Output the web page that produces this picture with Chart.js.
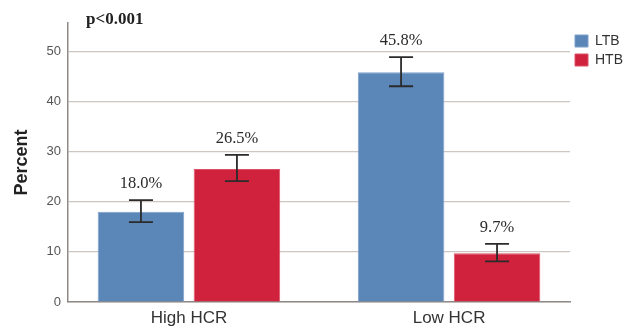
<!DOCTYPE html>
<html>
<head>
<meta charset="utf-8">
<script src="https://cdn.jsdelivr.net/npm/chart.js@4/dist/chart.umd.min.js"></script>
<style>
  html, body { margin: 0; padding: 0; background: #ffffff; }
  #wrap { width: 630px; height: 328px; position: relative; }
</style>
</head>
<body>
<div id="wrap"><canvas id="chart"></canvas></div>
<script>
// Percent of patients by HCR group, with 95% CI error bars
const categories = ['High HCR', 'Low HCR'];
const seriesNames = ['LTB', 'HTB'];
const ltbPercent = [18.0, 45.8];
const htbPercent = [26.5, 9.7];
const ltbCiLow = [15.9, 43.0];
const ltbCiHigh = [20.3, 48.8];
const htbCiLow = [24.1, 8.1];
const htbCiHigh = [29.3, 11.6];
const yTicks = [0, 10, 20, 30, 40, 50];
const pValueText = 'p<0.001';

const SANS = '"Liberation Sans", Arial, sans-serif';
const SERIF = '"Liberation Serif", "Times New Roman", serif';

const toPoints = (vals) => categories.map((_, i) => ({ x: i, y: vals[i] }));

// Error bars with caps, plus the percentage label above each bar
const errorBarPlugin = {
  id: 'errorBars',
  afterDatasetsDraw(chart) {
    const { ctx } = chart;
    const yScale = chart.scales.y;
    chart.data.datasets.forEach((ds, d) => {
      const meta = chart.getDatasetMeta(d);
      if (meta.hidden) return;
      meta.data.forEach((bar, i) => {
        const yHi = yScale.getPixelForValue(ds.ciHigh[i]);
        const yLo = yScale.getPixelForValue(ds.ciLow[i]);
        const x = bar.x;
        const half = 12;
        ctx.save();
        ctx.strokeStyle = '#2b2b2b';
        ctx.lineWidth = 1.8;
        ctx.beginPath();
        ctx.moveTo(x, yHi); ctx.lineTo(x, yLo);
        ctx.moveTo(x - half, yHi); ctx.lineTo(x + half, yHi);
        ctx.moveTo(x - half, yLo); ctx.lineTo(x + half, yLo);
        ctx.stroke();
        ctx.fillStyle = '#2a2a2a';
        ctx.font = '16.5px ' + SERIF;
        ctx.textAlign = 'center';
        ctx.textBaseline = 'middle';
        ctx.fillText(ds.data[i].y.toFixed(1) + '%', x, yHi - 16);
        ctx.restore();
      });
    });
  }
};

// Significance note in the top-left corner of the plot
const pValuePlugin = {
  id: 'pValueNote',
  afterDraw(chart) {
    const { ctx, chartArea } = chart;
    ctx.save();
    ctx.fillStyle = '#222222';
    ctx.font = 'bold 17px ' + SERIF;
    ctx.textAlign = 'left';
    ctx.textBaseline = 'alphabetic';
    ctx.fillText(pValueText, chartArea.left + 18, 24);
    ctx.restore();
  }
};

new Chart(document.getElementById('chart'), {
  type: 'bar',
  data: {
    datasets: [
      {
        label: seriesNames[0],
        data: toPoints(ltbPercent),
        ciLow: ltbCiLow,
        ciHigh: ltbCiHigh,
        backgroundColor: '#5b86b8',
        borderColor: '#7d9fca',
        borderWidth: 1
      },
      {
        label: seriesNames[1],
        data: toPoints(htbPercent),
        ciLow: htbCiLow,
        ciHigh: htbCiHigh,
        backgroundColor: '#d0223d',
        borderColor: '#dc5167',
        borderWidth: 1
      }
    ]
  },
  options: {
    responsive: true,
    maintainAspectRatio: false,
    animation: false,
    categoryPercentage: 0.738,
    barPercentage: 0.902,
    layout: { padding: { top: 23, right: 0, bottom: 0, left: 0 } },
    plugins: {
      tooltip: { enabled: false },
      legend: {
        position: 'right',
        align: 'start',
        maxWidth: 60,
        title: { display: true, text: '', font: { size: 6, lineHeight: 1 }, padding: 0 },
        labels: {
          boxWidth: 13,
          boxHeight: 12,
          padding: 5,
          color: '#333333',
          font: { family: SANS, size: 14 }
        }
      }
    },
    scales: {
      x: {
        type: 'linear',
        offset: false,
        min: -0.465,
        max: 1.465,
        afterBuildTicks(scale) {
          scale.ticks = categories.map((_, i) => ({ value: i }));
        },
        afterFit(scale) { scale.height = 26; },
        grid: { display: false, drawTicks: false },
        border: { display: true, color: '#8f8a87', width: 1.5 },
        ticks: {
          padding: 6,
          maxRotation: 0,
          autoSkip: false,
          color: '#333333',
          font: { family: SANS, size: 17 },
          callback: (v) => categories[v] ?? ''
        }
      },
      y: {
        min: 0,
        max: 55.6,
        afterBuildTicks(scale) {
          scale.ticks = yTicks.map(v => ({ value: v }));
        },
        afterFit(scale) { scale.width = 68; },
        grid: { color: '#cdc6c1', lineWidth: 1.2, drawTicks: false },
        border: { display: true, color: '#8f8a87', width: 1.5 },
        ticks: {
          padding: 7,
          color: '#555555',
          font: { family: SANS, size: 13 }
        },
        title: {
          display: true,
          text: 'Percent',
          color: '#222222',
          font: { family: SANS, size: 18, weight: 'bold', lineHeight: 1.2 },
          padding: { top: 11, bottom: 0 }
        }
      }
    }
  },
  plugins: [errorBarPlugin, pValuePlugin]
});
</script>
</body>
</html>
